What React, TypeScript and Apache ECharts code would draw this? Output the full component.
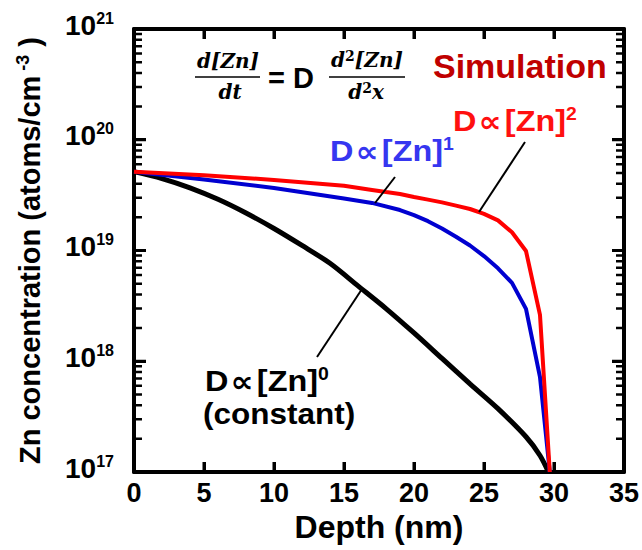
import React, { useEffect, useRef } from "react";
import * as echarts from "echarts";

const FONT = "Liberation Sans, Arial, DejaVu Sans, sans-serif";
const SERIF = "DejaVu Serif, Liberation Serif, serif";
const SYM = "DejaVu Sans, sans-serif";

// axes
const xMin = 0;
const xMax = 35;
const xInterval = 5;
const xTickVals = [5, 10, 15, 20, 25, 30];
const yMin = 1e17;
const yMax = 1e21;
const yMajorExps = [18, 19, 20];
const decades = [17, 18, 19, 20];
const minorMultipliers = [2, 3, 4, 5, 6, 7, 8, 9];

// D ∝ [Zn]^0 (constant)
const blackDepth = [0, 2, 4, 6, 8, 10, 12, 14, 16, 18, 20, 22, 24, 26, 28, 29, 29.6];
const blackConc = [5.15e19, 4.46e19, 3.68e19, 2.9e19, 2.18e19, 1.58e19, 1.11e19, 7.66e18, 4.79e18, 2.99e18, 1.8e18, 1.06e18, 6.24e17, 3.73e17, 2.08e17, 1.41e17, 1e17];

// D ∝ [Zn]^1
const blueDepth = [0, 5, 10, 15, 17, 19, 20, 21, 22, 23, 24, 25, 26, 27, 28, 29, 29.7];
const blueConc = [5.15e19, 4.38e19, 3.67e19, 2.95e19, 2.69e19, 2.32e19, 2.09e19, 1.84e19, 1.58e19, 1.33e19, 1.11e19, 8.9e18, 6.9e18, 5.1e18, 2.97e18, 7.2e17, 1e17];

// D ∝ [Zn]^2
const redDepth = [0, 5, 10, 15, 17, 18, 19, 20, 21, 22, 23, 24, 25, 26, 27, 28, 29, 29.7];
const redConc = [5.15e19, 4.77e19, 4.34e19, 3.84e19, 3.52e19, 3.37e19, 3.24e19, 3.04e19, 2.88e19, 2.72e19, 2.54e19, 2.37e19, 2.14e19, 1.87e19, 1.46e19, 9.9e18, 2.62e18, 1e17];

const zip = (xs: number[], ys: number[]) => xs.map((x, i) => [x, ys[i]]);

function label(x: number, y: number, sup: string, color: string, fs: number) {
  return {
    type: "text", x, y, scaleX: 1.08,
    style: {
      text: `{m|D}{p|∝}{m|[Zn]}{s|${sup}}`, textAlign: "left", textVerticalAlign: "middle",
      rich: {
        m: { fontFamily: FONT, fontWeight: "bold", fontSize: fs, fill: color, lineHeight: 32 },
        p: { fontFamily: SYM, fontWeight: "bold", fontSize: fs, fill: color, lineHeight: 32, padding: [0, 3, 0, 2] },
        s: { fontFamily: FONT, fontWeight: "bold", fontSize: 18, fill: color, lineHeight: 18, verticalAlign: "top" },
      },
    },
  };
}

const GRID = { left: 134, right: 17, top: 29, bottom: 78 };
const W = 642;
const H = 550;

export default function App() {
  const ref = useRef<HTMLDivElement>(null);
  useEffect(() => {
    if (!ref.current) return;
    document.body.style.margin = "0";
    const chart = echarts.init(ref.current, undefined, { renderer: "svg" });

    // tick lengths expressed in axis units
    const plotW = W - GRID.left - GRID.right;
    const plotH = H - GRID.top - GRID.bottom;
    const perPxX = (xMax - xMin) / plotW;
    const decadesPerPx = Math.log10(yMax / yMin) / plotH;
    const gap = [xMin, "-"];
    const minorTicks: any[] = [];
    const majorTicks: any[] = [];
    decades.forEach((d) =>
      minorMultipliers.forEach((m) => {
        const v = m * Math.pow(10, d);
        minorTicks.push([xMin, v], [xMin + 8 * perPxX, v], gap);
        minorTicks.push([xMax, v], [xMax - 8 * perPxX, v], gap);
      })
    );
    yMajorExps.forEach((e) => {
      const v = Math.pow(10, e);
      majorTicks.push([xMin, v], [xMin + 12 * perPxX, v], gap);
      majorTicks.push([xMax, v], [xMax - 12 * perPxX, v], gap);
    });
    const f = Math.pow(10, 10 * decadesPerPx);
    xTickVals.forEach((x) => {
      majorTicks.push([x, yMin], [x, yMin * f], gap);
      majorTicks.push([x, yMax], [x, yMax / f], gap);
    });

    const axisLine = () => ({ show: true, onZero: false, lineStyle: { color: "#000", width: 4 } });
    const xTick = () => ({ show: true, inside: true, length: 10, lineStyle: { width: 3, color: "#000" } });
    const yTick = () => ({ show: true, inside: true, length: 12, lineStyle: { width: 3, color: "#000" } });
    const labelBold = { fontFamily: FONT, fontWeight: "bold", color: "#000" };

    const option: any = {
      animation: false,
      grid: GRID,
      xAxis: [
        {
          type: "value", min: xMin, max: xMax, interval: xInterval, position: "bottom",
          axisLine: axisLine(), splitLine: { show: false }, axisTick: xTick(),
          axisLabel: { ...labelBold, fontSize: 27, margin: 7 },
          name: "Depth (nm)", nameLocation: "middle", nameGap: 35,
          nameTextStyle: { ...labelBold, fontSize: 32 },
        },
        {
          type: "value", min: xMin, max: xMax, interval: xInterval, position: "top",
          axisLine: axisLine(), splitLine: { show: false }, axisTick: xTick(),
          axisLabel: { show: false },
        },
      ],
      yAxis: [
        {
          type: "log", logBase: 10, min: yMin, max: yMax, position: "left",
          axisLine: axisLine(), splitLine: { show: false }, axisTick: yTick(),
          axisLabel: {
            margin: 20,
            padding: [0, 0, 8, 0],
            formatter: (v: number) => `{b|10}{s|${Math.round(Math.log10(v))}}`,
            rich: {
              b: { ...labelBold, fontSize: 28, lineHeight: 30 },
              s: { ...labelBold, fontSize: 16, lineHeight: 18, verticalAlign: "top" },
            },
          },
          name: "{a|Zn concentration (atoms/cm}{s| -3}{a| )}",
          nameLocation: "middle", nameGap: 88, nameRotate: 90,
          nameTextStyle: {
            rich: {
              a: { ...labelBold, fontSize: 29, lineHeight: 32 },
              s: { ...labelBold, fontSize: 18, lineHeight: 18, verticalAlign: "top" },
            },
          },
        },
        {
          type: "log", logBase: 10, min: yMin, max: yMax, position: "right",
          axisLine: axisLine(), splitLine: { show: false }, axisTick: yTick(),
          axisLabel: { show: false },
        },
      ],
      series: [
        {
          type: "line", name: "minor ticks", data: minorTicks, showSymbol: false, connectNulls: false,
          clip: false, silent: true, lineStyle: { color: "#000", width: 2.5 }, itemStyle: { color: "#000" },
        },
        {
          type: "line", name: "major ticks", data: majorTicks, showSymbol: false, connectNulls: false,
          clip: false, silent: true, lineStyle: { color: "#000", width: 3 }, itemStyle: { color: "#000" },
        },
        {
          type: "line", name: "D∝[Zn]^0", data: zip(blackDepth, blackConc), showSymbol: false, smooth: 0.3,
          lineStyle: { color: "#000", width: 5 }, itemStyle: { color: "#000" },
        },
        {
          type: "line", name: "D∝[Zn]^1", data: zip(blueDepth, blueConc), showSymbol: false,
          lineStyle: { color: "#0000d0", width: 4 }, itemStyle: { color: "#0000d0" },
        },
        {
          type: "line", name: "D∝[Zn]^2", data: zip(redDepth, redConc), showSymbol: false,
          lineStyle: { color: "#ff0000", width: 4 }, itemStyle: { color: "#ff0000" },
        },
      ],
      graphic: [
        { type: "text", x: 228, y: 61, style: { text: "d[Zn]", font: `italic bold 20px ${SERIF}`, fill: "#000", textAlign: "center", textVerticalAlign: "middle" } },
        { type: "line", shape: { x1: 195, y1: 77, x2: 260, y2: 77 }, style: { stroke: "#000", lineWidth: 1.5 } },
        { type: "text", x: 230, y: 92, style: { text: "dt", font: `italic bold 20px ${SERIF}`, fill: "#000", textAlign: "center", textVerticalAlign: "middle" } },
        { type: "text", x: 268, y: 78, style: { text: "= D", font: `bold 29px ${FONT}`, fill: "#000", textAlign: "left", textVerticalAlign: "middle" } },
        {
          type: "text", x: 367, y: 60,
          style: {
            text: "{a|d}{s|2}{a|[Zn]}", textAlign: "center", textVerticalAlign: "middle",
            rich: {
              a: { fontFamily: SERIF, fontStyle: "italic", fontWeight: "bold", fontSize: 20, fill: "#000", lineHeight: 22 },
              s: { fontFamily: SERIF, fontWeight: "bold", fontSize: 14, fill: "#000", lineHeight: 14, verticalAlign: "top" },
            },
          },
        },
        { type: "line", shape: { x1: 329, y1: 77, x2: 405, y2: 77 }, style: { stroke: "#000", lineWidth: 1.5 } },
        {
          type: "text", x: 366, y: 92,
          style: {
            text: "{a|d}{s|2}{a|x}", textAlign: "center", textVerticalAlign: "middle",
            rich: {
              a: { fontFamily: SERIF, fontStyle: "italic", fontWeight: "bold", fontSize: 20, fill: "#000", lineHeight: 22 },
              s: { fontFamily: SERIF, fontWeight: "bold", fontSize: 14, fill: "#000", lineHeight: 14, verticalAlign: "top" },
            },
          },
        },
        { type: "text", x: 433, y: 66, style: { text: "Simulation", font: `bold 34px ${FONT}`, fill: "#c00000", textAlign: "left", textVerticalAlign: "middle" } },
        label(453, 121, "2", "#ff1010", 30),
        label(330, 151, "1", "#3636f0", 30),
        label(205, 381, "0", "#000", 30),
        { type: "text", x: 203, y: 414, scaleX: 1.05, style: { text: "(constant)", font: `bold 30px ${FONT}`, fill: "#000", textAlign: "left", textVerticalAlign: "middle" } },
        { type: "line", shape: { x1: 525, y1: 142, x2: 479, y2: 212 }, style: { stroke: "#000", lineWidth: 2 }, z: 10 },
        { type: "line", shape: { x1: 395, y1: 177, x2: 375, y2: 203 }, style: { stroke: "#000", lineWidth: 2 }, z: 10 },
        { type: "line", shape: { x1: 317, y1: 357, x2: 362, y2: 289 }, style: { stroke: "#000", lineWidth: 2 }, z: 10 },
      ],
    };
    chart.setOption(option);
    return () => chart.dispose();
  }, []);
  return <div ref={ref} style={{ width: W, height: H }} />;
}
